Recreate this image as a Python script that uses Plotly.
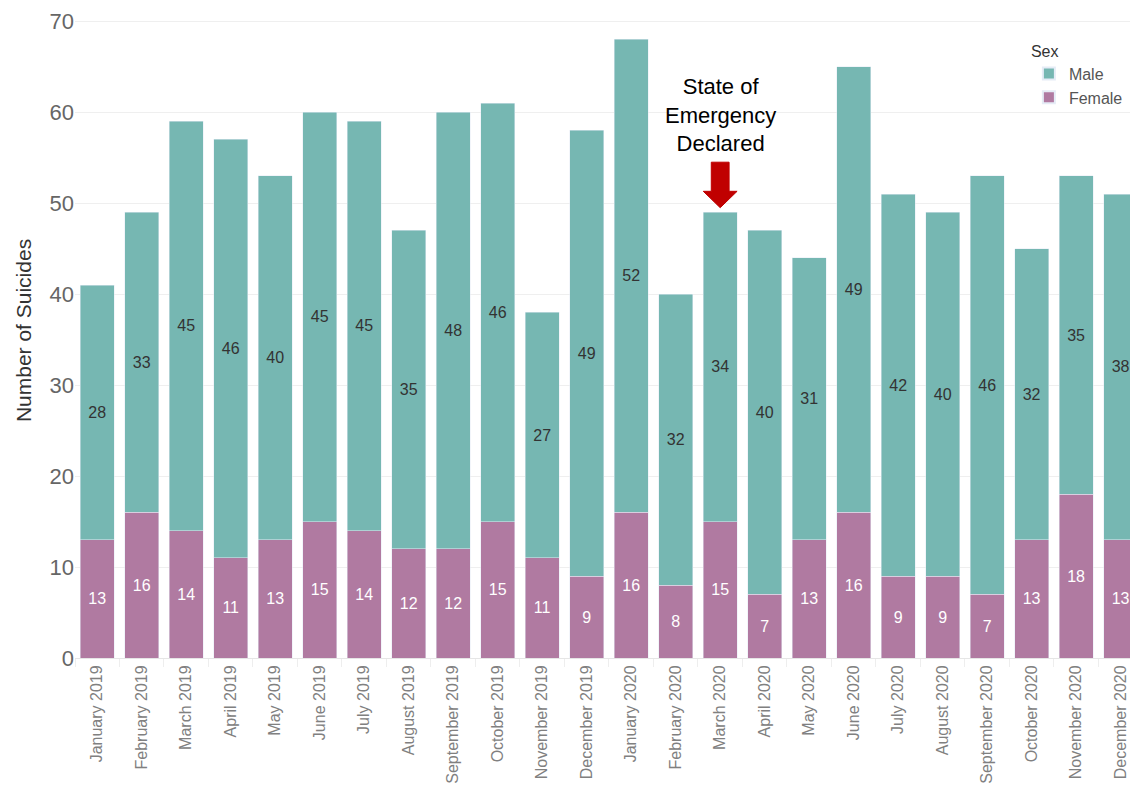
import plotly.graph_objects as go

months = ["January 2019", "February 2019", "March 2019", "April 2019", "May 2019", "June 2019",
          "July 2019", "August 2019", "September 2019", "October 2019", "November 2019", "December 2019",
          "January 2020", "February 2020", "March 2020", "April 2020", "May 2020", "June 2020",
          "July 2020", "August 2020", "September 2020", "October 2020", "November 2020", "December 2020"]
male = [28, 33, 45, 46, 40, 45, 45, 35, 48, 46, 27, 49, 52, 32, 34, 40, 31, 49, 42, 40, 46, 32, 35, 38]
female = [13, 16, 14, 11, 13, 15, 14, 12, 12, 15, 11, 9, 16, 8, 15, 7, 13, 16, 9, 9, 7, 13, 18, 13]
y_ticks = [0, 10, 20, 30, 40, 50, 60, 70]
event_month = "March 2020"
event_text = "State of<br>Emergency<br>Declared"

FONT = "Liberation Sans, Arial, sans-serif"
MALE_C = "#76B7B2"
FEMALE_C = "#B07AA1"

fig = go.Figure()
fig.add_trace(go.Bar(
    x=months, y=female, name="Female", marker_color=FEMALE_C,
    text=female, textposition="inside", insidetextanchor="middle",
    textfont=dict(color="white", size=16, family=FONT), constraintext="none",
))
fig.add_trace(go.Bar(
    x=months, y=male, name="Male", marker_color=MALE_C,
    text=male, textposition="inside", insidetextanchor="middle",
    textfont=dict(color="#333333", size=16, family=FONT), constraintext="none",
))

idx = months.index(event_month)
tip = male[idx] + female[idx] + 0.5
# block arrow pointing at the event bar
sw, hw = 0.2, 0.38
path = (f"M {idx - sw} {tip + 5} L {idx + sw} {tip + 5} L {idx + sw} {tip + 1.8} "
        f"L {idx + hw} {tip + 1.8} L {idx} {tip} L {idx - hw} {tip + 1.8} "
        f"L {idx - sw} {tip + 1.8} Z")
fig.add_shape(type="path", path=path, xref="x", yref="y",
              fillcolor="#C00000", line=dict(color="#C00000", width=1))
fig.add_annotation(x=idx, y=tip + 10.2, xref="x", yref="y", text=event_text,
                   showarrow=False, font=dict(size=22, color="black", family=FONT),
                   align="center")

fig.update_layout(
    barmode="stack", bargap=0.24,
    width=1130, height=790,
    margin=dict(l=75, r=0, t=3, b=132),
    plot_bgcolor="white", paper_bgcolor="white",
    font=dict(family=FONT, color="#666666"),
    legend=dict(title=dict(text="Sex", font=dict(size=16, color="#333333")),
                traceorder="reversed", x=0.998, y=0.95, xanchor="right", yanchor="top",
                font=dict(size=16, color="#555555"), bgcolor="rgba(0,0,0,0)",
                itemsizing="constant"),
    showlegend=True,
)
fig.update_yaxes(
    range=[0, 72], tickvals=y_ticks, showgrid=True, gridcolor="#EFEFEF",
    zeroline=False, tickfont=dict(size=22, color="#666666"), automargin=False,
    title=dict(text="Number of Suicides", font=dict(size=21, color="#333333"), standoff=12),
    ticks="", showline=False,
)
fig.update_xaxes(
    range=[-0.5, 23.21], tickangle=-90, tickfont=dict(size=16, color="#808080"),
    showgrid=False, showline=True, linecolor="#E6E6E6", ticks="outside", automargin=False,
    tickson="boundaries", ticklen=8, tickcolor="#EEEEEE",
)

fig.write_html("out.html")
